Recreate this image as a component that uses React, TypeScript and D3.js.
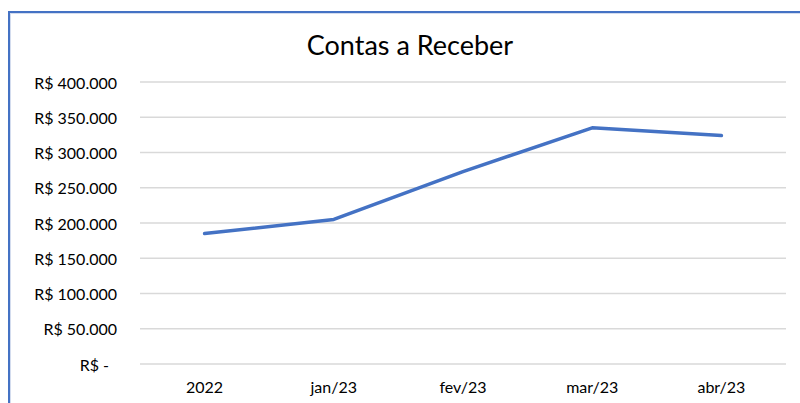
import React from "react";
import * as d3 from "d3";

const categories = ["2022", "jan/23", "fev/23", "mar/23", "abr/23"];
const values = [185000, 205000, 273000, 335000, 324000];
const yTicks = [0, 50000, 100000, 150000, 200000, 250000, 300000, 350000, 400000];
const title = "Contas a Receber";

const W = 800;
const H = 403;
const plot = { left: 140, right: 786, top: 82, bottom: 364 };

function fmt(v: number): string {
  if (v === 0) return "R$ -";
  return "R$ " + d3.format(",")(v).replace(/,/g, ".");
}

export default function App() {
  const x = d3
    .scaleBand<string>()
    .domain(categories)
    .range([plot.left, plot.right])
    .padding(0);
  const y = d3.scaleLinear().domain([0, 400000]).range([plot.bottom, plot.top]);
  const line = d3
    .line<number>()
    .x((_, i) => (x(categories[i]) as number) + x.bandwidth() / 2)
    .y((d) => y(d));
  const font = "Lato, 'Open Sans', sans-serif";
  return (
    <svg
      width={W}
      height={H}
      style={{ position: "absolute", left: 0, top: 0, background: "#fff" }}
    >
      <rect x={0} y={0} width={W} height={H} fill="#fff" />
      <rect x={9} y={12} width={W + 20} height={H + 20} fill="#fff" stroke="#4472C4" strokeWidth={2} />
      <rect x={10.5} y={13.5} width={W + 20} height={H + 20} fill="none" stroke="#D3DCEE" strokeWidth={1} />
      <text
        x={410}
        y={44.5}
        textAnchor="middle"
        dominantBaseline="central"
        fontFamily={font}
        fontSize={27}
        fill="#000"
      >
        {title}
      </text>
      {yTicks.map((t) => (
        <g key={t}>
          <line
            x1={plot.left}
            x2={plot.right}
            y1={y(t)}
            y2={y(t)}
            stroke="#D9D9D9"
            strokeWidth={1.3}
          />
          <text
            x={t === 0 ? 109 : 117}
            y={y(t)}
            textAnchor="end"
            dominantBaseline="central"
            fontFamily={font}
            fontSize={16}
            fill="#000"
          >
            {fmt(t)}
          </text>
        </g>
      ))}
      {categories.map((c) => (
        <text
          key={c}
          x={(x(c) as number) + x.bandwidth() / 2}
          y={386}
          textAnchor="middle"
          dominantBaseline="central"
          fontFamily={font}
          fontSize={16}
          fill="#000"
        >
          {c}
        </text>
      ))}
      <path
        d={line(values) || ""}
        fill="none"
        stroke="#4472C4"
        strokeWidth={3.5}
        strokeLinejoin="round"
        strokeLinecap="round"
      />
    </svg>
  );
}
